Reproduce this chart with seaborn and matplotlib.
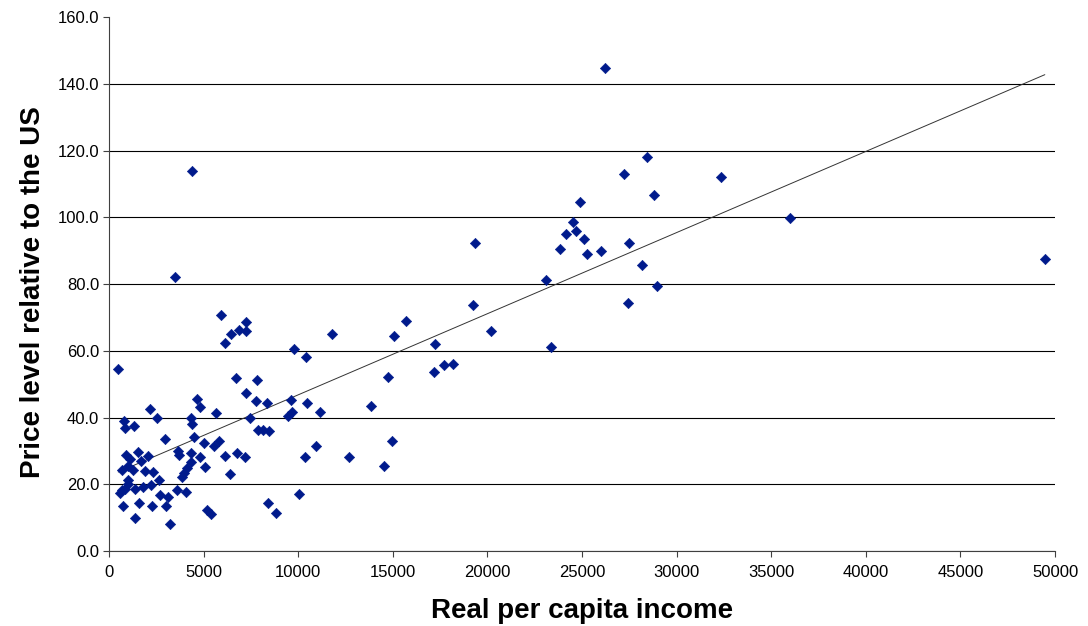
import numpy as np
import pandas as pd
import matplotlib
matplotlib.use("Agg")
import matplotlib.pyplot as plt
import seaborn as sns

# real per capita income (x) and price level relative to the US (y)
income = [
    26200, 28450, 27200, 32350, 28830, 24870, 35980, 24500, 24660, 24130,
    25080, 23830, 25250, 26000, 27470, 19330, 28180, 23090, 28970, 27440,
    19240, 49460, 15720, 20210, 17250, 23340, 17690, 18180, 17160, 11770,
    15080, 10400, 14760, 10460, 11140, 13850, 9760, 9610, 9460, 9690,
    10960, 10360, 12700, 14960, 14520, 10060, 8850, 8420,
    3480, 5900, 7260, 6460, 6860, 7260, 6150, 490, 6690, 7840,
    4660, 7220, 4370, 4830, 2170, 2560, 5680, 7790, 8360, 810,
    830, 1300, 4330, 4370, 7460, 7880, 8130, 8460, 2960, 4480,
    3670, 3720, 4330, 5040, 5550, 5830, 4830, 5080, 6150, 6760,
    7190, 6400, 4100, 3950, 3840, 2060, 1510, 890, 1110, 1690,
    700, 1280, 1920, 2340, 2630, 1810, 2200, 580, 2700, 3100,
    3600, 4070, 3000, 1570, 730, 2250, 1380, 3240, 5200, 5370,
    990, 1020, 850, 1370, 700, 4320, 1000,
]
price_level = [
    144.6, 118.0, 113.0, 112.1, 106.6, 104.7, 99.9, 98.5, 95.8, 94.9,
    93.6, 90.6, 89.0, 89.9, 92.3, 92.4, 85.6, 81.2, 79.5, 74.4,
    73.8, 87.5, 68.8, 66.0, 61.9, 61.0, 55.7, 56.0, 53.5, 64.9,
    64.5, 58.0, 52.0, 44.4, 41.6, 43.5, 60.4, 45.3, 40.5, 41.8,
    31.6, 28.2, 28.1, 33.1, 25.4, 17.1, 11.3, 14.5,
    82.0, 70.6, 68.7, 65.1, 66.1, 65.9, 62.2, 54.4, 51.9, 51.1,
    45.5, 47.4, 114.0, 43.0, 42.5, 40.0, 41.4, 44.8, 44.4, 38.9,
    36.8, 37.4, 39.8, 38.2, 39.9, 36.4, 36.3, 36.1, 33.6, 34.2,
    30.0, 28.7, 29.3, 32.4, 31.5, 32.9, 28.2, 25.3, 28.4, 29.4,
    28.3, 23.2, 24.8, 23.3, 22.3, 28.6, 29.6, 28.7, 27.7, 27.1,
    24.3, 24.2, 24.1, 23.7, 21.2, 19.3, 19.7, 17.3, 16.8, 16.1,
    18.2, 17.7, 13.4, 14.5, 13.5, 13.4, 10.0, 8.1, 12.3, 11.2,
    21.4, 20.0, 18.7, 18.6, 18.2, 26.7, 25.5,
]

x_ticks = list(range(0, 50001, 5000))
y_ticks = [0, 20, 40, 60, 80, 100, 120, 140, 160]

df = pd.DataFrame({"income": income, "price": price_level})

sns.set_style("white")
plt.rcParams['font.family'] = ['Liberation Sans', 'DejaVu Sans']
plt.rcParams['text.color'] = 'black'
plt.rcParams['axes.labelcolor'] = 'black'

fig = plt.figure(figsize=(10.88, 6.26), dpi=100)
ax = fig.add_axes([0.1002, 0.1198, 0.8695, 0.853])

ax.set_yticks(y_ticks)
ax.yaxis.grid(True, color='black', linewidth=0.8)
ax.set_axisbelow(True)

# linear trend line over the data range
sns.regplot(data=df, x="income", y="price", scatter=False, ci=None,
            truncate=True, ax=ax, line_kws={'color': '#333333', 'linewidth': 0.7})
sns.scatterplot(data=df, x="income", y="price", marker='D', s=28,
                color='#001A8C', edgecolor='#001A8C', linewidth=0.4, ax=ax, zorder=3)

ax.set_xlim(0, 50000)
ax.set_ylim(0, 160)
ax.set_xticks(x_ticks)
ax.set_yticks(y_ticks)
ax.set_yticklabels(['{:.1f}'.format(v) for v in y_ticks])
ax.get_ygridlines()[-1].set_visible(False)  # no gridline at the top

for s in ['top', 'right']:
    ax.spines[s].set_visible(False)
for s in ['left', 'bottom']:
    ax.spines[s].set_color('#404040')
    ax.spines[s].set_linewidth(0.8)

ax.tick_params(axis='both', direction='out', length=4, width=0.8, color='#404040',
               labelsize=12, labelcolor='black', left=True, bottom=True)
ax.tick_params(axis='y', pad=3)
ax.tick_params(axis='x', pad=6)
ax.set_xlabel('Real per capita income', fontsize=20, fontweight='bold', labelpad=13)
ax.set_ylabel('Price level relative to the US', fontsize=20, fontweight='bold')
ax.yaxis.set_label_coords(-0.067, 0.485)

fig.savefig('out.png', dpi=100)
